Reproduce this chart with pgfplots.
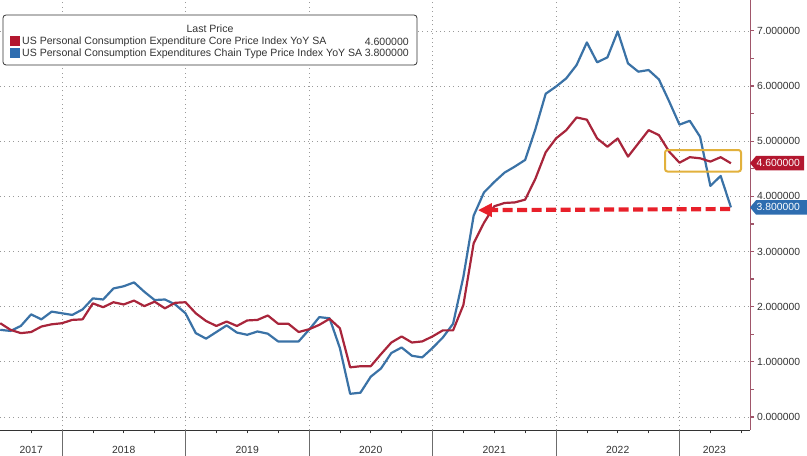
\documentclass[border=0pt]{standalone}
\usepackage{pgfplots}
\pgfplotsset{compat=1.18}
\usepackage{pgfplotstable}
\usepackage{fontspec}
\setmainfont{Liberation Sans}
\usetikzlibrary{arrows.meta}
\definecolor{corered}{HTML}{A8253B}
\definecolor{pceblue}{HTML}{3A72A6}
\definecolor{tagred}{HTML}{B3172F}
\definecolor{tagblue}{HTML}{2E6DB0}
\definecolor{arrowred}{HTML}{E8202A}
\definecolor{boxgold}{HTML}{E2B13C}
\definecolor{axisred}{HTML}{A0566A}
\definecolor{gridgray}{HTML}{9A9A9A}
\definecolor{txt}{HTML}{333333}

\pgfplotstableread{
yr m core pce
2017 6 1.70 1.58
2017 7 1.58 1.56
2017 8 1.52 1.65
2017 9 1.54 1.86
2017 10 1.64 1.77
2017 11 1.68 1.91
2017 12 1.70 1.88
2018 1 1.76 1.85
2018 2 1.77 1.95
2018 3 2.06 2.15
2018 4 1.99 2.13
2018 5 2.08 2.33
2018 6 2.04 2.37
2018 7 2.11 2.44
2018 8 2.01 2.27
2018 9 2.09 2.12
2018 10 1.97 2.13
2018 11 2.07 2.04
2018 12 2.08 1.88
2019 1 1.88 1.52
2019 2 1.74 1.42
2019 3 1.65 1.54
2019 4 1.73 1.66
2019 5 1.65 1.53
2019 6 1.75 1.49
2019 7 1.76 1.55
2019 8 1.84 1.51
2019 9 1.69 1.37
2019 10 1.69 1.37
2019 11 1.54 1.37
2019 12 1.59 1.58
2020 1 1.67 1.81
2020 2 1.78 1.79
2020 3 1.61 1.25
2020 4 0.90 0.42
2020 5 0.92 0.44
2020 6 0.92 0.73
2020 7 1.14 0.88
2020 8 1.35 1.16
2020 9 1.46 1.26
2020 10 1.35 1.11
2020 11 1.37 1.08
2020 12 1.46 1.25
2021 1 1.57 1.44
2021 2 1.57 1.69
2021 3 2.03 2.54
2021 4 3.15 3.65
2021 5 3.52 4.07
2021 6 3.82 4.26
2021 7 3.88 4.43
2021 8 3.89 4.54
2021 9 3.94 4.66
2021 10 4.32 5.22
2021 11 4.80 5.86
2021 12 5.05 5.99
2022 1 5.20 6.14
2022 2 5.43 6.38
2022 3 5.39 6.79
2022 4 5.05 6.43
2022 5 4.90 6.52
2022 6 5.05 6.99
2022 7 4.72 6.41
2022 8 4.96 6.26
2022 9 5.20 6.29
2022 10 5.11 6.12
2022 11 4.81 5.72
2022 12 4.61 5.30
2023 1 4.71 5.37
2023 2 4.69 5.08
2023 3 4.63 4.19
2023 4 4.71 4.37
2023 5 4.60 3.80
}\data

\begin{document}
\begin{tikzpicture}[x=1bp,y=1bp]
\path[use as bounding box] (0,-26) rectangle (807,430);
\begin{axis}[
  at={(0,0)}, anchor=south west,
  width=750bp, height=430bp, scale only axis,
  xmin=2017.498, xmax=2023.571,
  ymin=-0.236, ymax=7.56,
  clip=false,
  axis x line*=bottom, axis y line*=right,
  x axis line style={-, txt, line width=0.8bp},
  y axis line style={-, axisred, line width=0.8bp},
  tick align=outside,
  major tick length=4bp, minor tick length=3.5bp,
  xtick={2018,2019,2020,2021,2022,2023}, xticklabels={},
  minor xtick={2017.75,2018.25,2018.5,2018.75,2019.25,2019.5,2019.75,2020.25,2020.5,2020.75,2021.25,2021.5,2021.75,2022.25,2022.5,2022.75,2023.25,2023.5},
  x tick style={txt, line width=0.6bp},
  ytick={0,1,2,3,4,5,6,7},
  minor ytick={0.5,1.5,2.5,3.5,4.5,5.5,6.5},
  y tick style={axisred, line width=1.2bp},
  grid=major,
  major grid style={gridgray, line width=0.7bp, dash pattern=on 0.8bp off 3.6bp},
  yticklabel style={txt, font=\fontsize{10.4}{11}\selectfont, anchor=west, xshift=-0.5bp},
  /pgf/number format/.cd, fixed, fixed zerofill, precision=6, assume math mode=true,
  /pgfplots/.cd,
  extra x ticks={2017.751,2018.5,2019.5,2020.5,2021.5,2022.5,2023.283},
  extra x tick labels={2017,2018,2019,2020,2021,2022,2023},
  extra x tick style={grid=none, tick style={draw=none},
     xticklabel style={txt, font=\fontsize{10.4}{11}\selectfont, anchor=north, yshift=-8.5bp}},
]
\addplot[pceblue, line width=2.2bp, line join=round] table[x expr=\thisrow{yr}+\thisrow{m}/12-0.0001, y=pce] {\data};
\addplot[corered, line width=2.2bp, line join=round] table[x expr=\thisrow{yr}+\thisrow{m}/12-0.0001, y=core] {\data};
\pgfplotsinvokeforeach{2018,2019,2020,2021,2022,2023}{
  \draw[gridgray!70!black, line width=0.6bp] (axis cs:#1,-0.236) -- ++(0pt,-26bp);
}
\draw[boxgold, line width=2bp, rounded corners=2.5bp] (axis cs:2022.883,4.45) rectangle (axis cs:2023.498,4.84);
\draw[arrowred, line width=4.2bp, dash pattern=on 10bp off 4.5bp, -{Triangle[length=14bp,width=13bp]}] (axis cs:2023.41,3.77) -- (axis cs:2021.368,3.75);
\end{axis}
% tags
\fill[tagred] (750,266.8) -- (756,274) -- (804,274) -- (804,259.6) -- (756,259.6) -- cycle;
\node[anchor=west, white, inner sep=0pt, font=\fontsize{10.4}{11}\selectfont] at (756.5,266.8) {4.600000};
\fill[tagblue] (750,222.6) -- (756,229.8) -- (807,229.8) -- (807,215.4) -- (756,215.4) -- cycle;
\node[anchor=west, white, inner sep=0pt, font=\fontsize{10.4}{11}\selectfont] at (756.5,222.6) {3.800000};
% legend
\draw[txt, line width=0.8bp, fill=white, rounded corners=3bp] (3,365) rectangle (417,415);
\node[txt, inner sep=0pt, font=\fontsize{10.6}{11}\selectfont] at (210,401.5) {Last Price};
\fill[tagred] (10,383.5) rectangle (20,393.5);
\fill[tagblue] (10,371.8) rectangle (20,381.8);
\node[anchor=west, txt, inner sep=0pt, font=\fontsize{10.6}{11}\selectfont] at (22,388.3) {US Personal Consumption Expenditure Core Price Index YoY SA};
\node[anchor=east, txt, inner sep=0pt, font=\fontsize{10.6}{11}\selectfont] at (409,388.3) {4.600000};
\node[anchor=west, txt, inner sep=0pt, font=\fontsize{10.6}{11}\selectfont] at (22,376.7) {US Personal Consumption Expenditures Chain Type Price Index YoY SA};
\node[anchor=east, txt, inner sep=0pt, font=\fontsize{10.6}{11}\selectfont] at (409,376.7) {3.800000};
\end{tikzpicture}
\end{document}
